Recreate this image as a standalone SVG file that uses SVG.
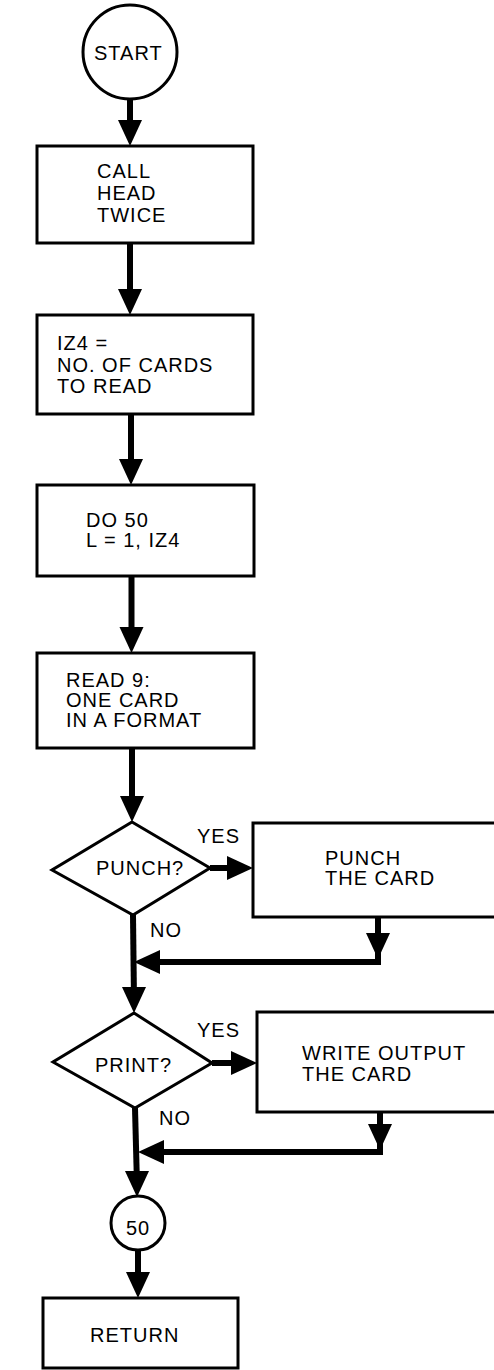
<svg xmlns="http://www.w3.org/2000/svg" xmlns:xlink="http://www.w3.org/1999/xlink" width="494" height="1370" viewBox="0 0 494 1370">
  <style>
    .box { fill: #fff; stroke: #000; stroke-width: 3; }
    .flow { fill: none; stroke: #000; stroke-width: 6; }
    .head { fill: #000; stroke: none; }
    .lbl { font-family: "Liberation Sans", Arial, sans-serif; font-size: 20px; letter-spacing: 1px; fill: #000; }
  </style>
  <defs>
    <!-- arrowhead pointing down, tip at the origin -->
    <path id="hd" d="M-12,-26 L12,-26 L0,0 Z"/>
  </defs>
  <rect width="494" height="1370" fill="#fff"/>

  <g id="connectors">
    <!-- main spine -->
    <line class="flow" x1="130" y1="99" x2="130" y2="134"/>
    <use xlink:href="#hd" class="head" transform="translate(130,146)"/>
    <line class="flow" x1="130" y1="243" x2="130" y2="303"/>
    <use xlink:href="#hd" class="head" transform="translate(130,315)"/>
    <line class="flow" x1="131" y1="414" x2="131" y2="473"/>
    <use xlink:href="#hd" class="head" transform="translate(131,485)"/>
    <line class="flow" x1="131.5" y1="576" x2="131.5" y2="641"/>
    <use xlink:href="#hd" class="head" transform="translate(131.5,653)"/>
    <line class="flow" x1="132" y1="748" x2="132" y2="810"/>
    <use xlink:href="#hd" class="head" transform="translate(132,822)"/>

    <!-- PUNCH? yes branch -->
    <line class="flow" x1="210" y1="868" x2="241" y2="868"/>
    <use xlink:href="#hd" class="head" transform="translate(253,868) rotate(-90)"/>
    <line class="flow" x1="378" y1="917" x2="378" y2="965"/>
    <use xlink:href="#hd" class="head" transform="translate(378,959)"/>
    <line class="flow" x1="381" y1="962" x2="146" y2="962"/>
    <use xlink:href="#hd" class="head" transform="translate(134,962) rotate(90)"/>

    <!-- PUNCH? no branch to PRINT? -->
    <line class="flow" x1="133" y1="915" x2="134" y2="1001"/>
    <use xlink:href="#hd" class="head" transform="translate(134,1013)"/>

    <!-- PRINT? yes branch -->
    <line class="flow" x1="212" y1="1063" x2="245" y2="1063"/>
    <use xlink:href="#hd" class="head" transform="translate(257,1063) rotate(-90)"/>
    <line class="flow" x1="380" y1="1112" x2="380" y2="1155"/>
    <use xlink:href="#hd" class="head" transform="translate(380,1150)"/>
    <line class="flow" x1="383" y1="1152" x2="150" y2="1152"/>
    <use xlink:href="#hd" class="head" transform="translate(138,1152) rotate(90)"/>

    <!-- PRINT? no branch to loop end -->
    <line class="flow" x1="135" y1="1108" x2="137" y2="1185"/>
    <use xlink:href="#hd" class="head" transform="translate(137,1197)"/>
    <line class="flow" x1="138" y1="1250" x2="138" y2="1286"/>
    <use xlink:href="#hd" class="head" transform="translate(138,1298)"/>
  </g>

  <g id="start">
    <circle class="box" cx="130" cy="52" r="47"/>
    <text class="lbl" x="94" y="60">START</text>
  </g>

  <g id="call-head">
    <rect class="box" x="37" y="146" width="216" height="97"/>
    <text class="lbl" x="97" y="178">CALL</text>
    <text class="lbl" x="97" y="200">HEAD</text>
    <text class="lbl" x="97" y="222">TWICE</text>
  </g>

  <g id="set-iz4">
    <rect class="box" x="37" y="315" width="216" height="99"/>
    <text class="lbl" x="57" y="350">IZ4 =</text>
    <text class="lbl" x="57" y="372">NO. OF CARDS</text>
    <text class="lbl" x="57" y="393">TO READ</text>
  </g>

  <g id="do-loop">
    <rect class="box" x="37" y="485" width="217" height="91"/>
    <text class="lbl" x="86" y="527">DO 50</text>
    <text class="lbl" x="86" y="547">L = 1, IZ4</text>
  </g>

  <g id="read-card">
    <rect class="box" x="37" y="653" width="217" height="95"/>
    <text class="lbl" x="66" y="687">READ 9:</text>
    <text class="lbl" x="66" y="707">ONE CARD</text>
    <text class="lbl" x="66" y="727">IN A FORMAT</text>
  </g>

  <g id="punch-test">
    <polygon class="box" points="132,822 210,868 133,915 52,870"/>
    <text class="lbl" x="96" y="875">PUNCH?</text>
    <text class="lbl" x="197" y="843">YES</text>
    <text class="lbl" x="150" y="937">NO</text>
  </g>

  <g id="punch-card">
    <rect class="box" x="253" y="823" width="250" height="94"/>
    <text class="lbl" x="325" y="865">PUNCH</text>
    <text class="lbl" x="325" y="885">THE CARD</text>
  </g>

  <g id="print-test">
    <polygon class="box" points="134,1013 212,1063 135,1108 53,1062"/>
    <text class="lbl" x="95" y="1072">PRINT?</text>
    <text class="lbl" x="197" y="1037">YES</text>
    <text class="lbl" x="159" y="1125">NO</text>
  </g>

  <g id="write-card">
    <rect class="box" x="257" y="1012" width="246" height="100"/>
    <text class="lbl" x="302" y="1060">WRITE OUTPUT</text>
    <text class="lbl" x="302" y="1081">THE CARD</text>
  </g>

  <g id="label-50">
    <circle class="box" cx="138" cy="1223" r="27"/>
    <text class="lbl" x="126" y="1235">50</text>
  </g>

  <g id="return">
    <rect class="box" x="43" y="1298" width="195" height="70"/>
    <text class="lbl" x="90" y="1342">RETURN</text>
  </g>
</svg>
